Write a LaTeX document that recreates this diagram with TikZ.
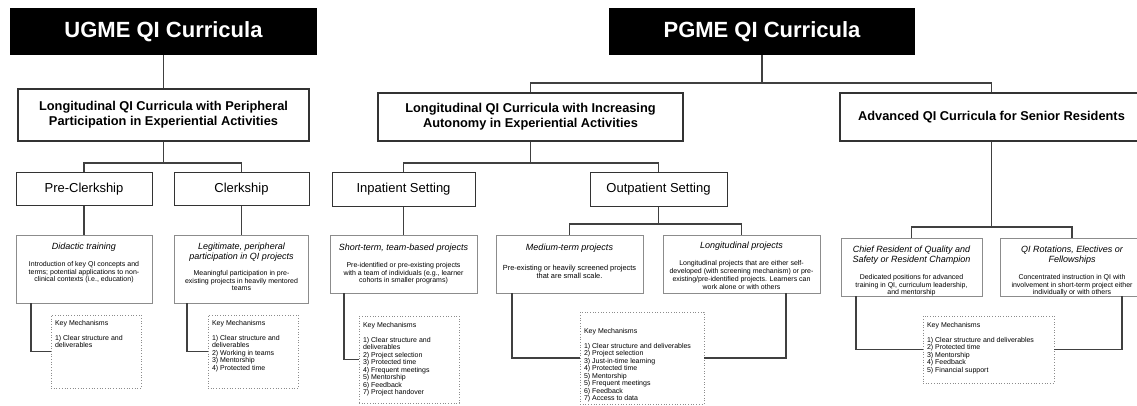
\documentclass[tikz,border=0pt]{standalone}
\usepackage{fontspec}
\setmainfont{Liberation Sans}
\newcommand\cardhead{\itshape\fontsize{9}{10}\selectfont}
\newcommand\cardbody{\fontsize{7}{7.8}\selectfont}
\newcommand\keyfont{\fontsize{7}{7.5}\selectfont}
\begin{document}
\begin{tikzpicture}[x=1pt,y=-1pt,
  headbox/.style={fill=black,text=white,inner sep=0pt,font=\bfseries\fontsize{22}{26}\selectfont},
  lvltwo/.style={draw=black!80,line width=1.1pt,fill=white,inner sep=0pt,align=center,font=\bfseries\fontsize{12.8}{15}\selectfont},
  lvlthree/.style={draw=black!80,line width=1pt,fill=white,inner sep=0pt,font=\fontsize{13}{15}\selectfont},
  lvlfour/.style={draw=black!45,line width=0.9pt,fill=white,inner sep=0pt},
  keybox/.style={draw=black!45,dotted,line width=0.7pt,fill=white,inner xsep=4pt,inner ysep=0pt},
  link/.style={draw=black!75,line width=1.1pt}]
\useasboundingbox (0,0) rectangle (1137,406);

% ---------- top-level programmes ----------
\node[headbox,minimum width=307pt,minimum height=47pt] (ugme) at (163.5,31.5) {UGME QI Curricula};
\node[headbox,minimum width=306pt,minimum height=47pt] (pgme) at (762,31.5) {PGME QI Curricula};

% ---------- curriculum types ----------
\node[lvltwo,minimum width=291pt,minimum height=52pt] (ul) at (163.5,115)
  {Longitudinal QI Curricula with Peripheral\\Participation in Experiential Activities};
\node[lvltwo,minimum width=305pt,minimum height=48pt] (pl) at (530.5,117)
  {Longitudinal QI Curricula with Increasing\\Autonomy in Experiential Activities};
\node[lvltwo,minimum width=303pt,minimum height=48pt] (ad) at (991.5,117)
  {Advanced QI Curricula for Senior Residents};

% ---------- settings ----------
\node[lvlthree,minimum width=136pt,minimum height=32pt] (pre) at (84,189) {Pre-Clerkship};
\node[lvlthree,minimum width=135pt,minimum height=32pt] (clk) at (241.5,189) {Clerkship};
\node[lvlthree,minimum width=143pt,minimum height=33pt] (inp) at (403.5,189.5) {Inpatient Setting};
\node[lvlthree,minimum width=137pt,minimum height=33pt] (out) at (658.5,189.5) {Outpatient Setting};

% ---------- project types ----------
\node[lvlfour] (did) at (84,269) {\parbox[c][68pt][t]{136pt}{\centering\vspace*{8pt}%
  {\cardhead Didactic training\par}\vspace{9pt}%
  {\cardbody Introduction of key QI concepts and\\terms; potential applications to non-\\clinical contexts (i.e., education)\par}}};
\node[lvlfour] (leg) at (241.5,269) {\parbox[c][68pt][t]{134pt}{\centering\vspace*{8pt}%
  {\cardhead Legitimate, peripheral\\participation in QI projects\par}\vspace{8pt}%
  {\cardbody Meaningful participation in pre-\\existing projects in heavily mentored\\teams\par}}};
\node[lvlfour] (sht) at (403.5,264) {\parbox[c][58pt][t]{147pt}{\centering\vspace*{9pt}%
  {\cardhead Short-term, team-based projects\par}\vspace{9pt}%
  {\cardbody Pre-identified or pre-existing projects\\with a team of individuals (e.g., learner\\cohorts in smaller programs)\par}}};
\node[lvlfour] (med) at (569.5,264) {\parbox[c][58pt][t]{147pt}{\centering\vspace*{9pt}%
  {\cardhead Medium-term projects\par}\vspace{12pt}%
  {\fontsize{7.4}{8.2}\selectfont Pre-existing or heavily screened projects\\that are small scale.\par}}};
\node[lvlfour] (lng) at (741.5,264) {\parbox[c][58pt][t]{157pt}{\centering\vspace*{6.5pt}%
  {\cardhead Longitudinal projects\par}\vspace{10pt}%
  {\cardbody Longitudinal projects that are either self-\\developed (with screening mechanism) or pre-\\existing/pre-identified projects. Learners can\\work alone or with others\par}}};
\node[lvlfour] (chf) at (911.5,267) {\parbox[c][58pt][t]{141pt}{\centering\vspace*{8pt}%
  {\cardhead Chief Resident of Quality and\\Safety or Resident Champion\par}\vspace{9pt}%
  {\cardbody Dedicated positions for advanced\\training in QI, curriculum leadership,\\and mentorship\par}}};
\node[lvlfour] (rot) at (1072,267) {\parbox[c][58pt][t]{144pt}{\centering\vspace*{8pt}%
  {\cardhead QI Rotations, Electives or\\Fellowships\par}\vspace{9pt}%
  {\cardbody Concentrated instruction in QI with\\involvement in short-term project either\\individually or with others\par}}};

% ---------- key mechanisms ----------
\node[keybox] (ka) at (96,351.5) {\parbox[c][73pt][t]{82pt}{\raggedright\keyfont\vspace*{5pt}%
  Key Mechanisms\par\vspace{7.5pt}%
  1) Clear structure and\\deliverables\par}};
\node[keybox] (kb) at (253,351.5) {\parbox[c][73pt][t]{82pt}{\raggedright\keyfont\vspace*{5pt}%
  Key Mechanisms\par\vspace{7.5pt}%
  1) Clear structure and\\deliverables\\2) Working in teams\\3) Mentorship\\4) Protected time\par}};
\node[keybox] (kc) at (409,359.5) {\parbox[c][87pt][t]{92pt}{\raggedright\keyfont\vspace*{6pt}%
  Key Mechanisms\par\vspace{7.5pt}%
  1) Clear structure and\\deliverables\\2) Project selection\\3) Protected time\\4) Frequent meetings\\5) Mentorship\\6) Feedback\\7) Project handover\par}};
\node[keybox] (kd) at (642,358) {\parbox[c][92pt][t]{116pt}{\raggedright\keyfont\vspace*{16pt}%
  Key Mechanisms\par\vspace{7.5pt}%
  1) Clear structure and deliverables\\2) Project selection\\3) Just-in-time learning\\4) Protected time\\5) Mentorship\\5) Frequent meetings\\6) Feedback\\7) Access to data\par}};
\node[keybox] (ke) at (988.5,349.5) {\parbox[c][67pt][t]{123pt}{\raggedright\keyfont\vspace*{6pt}%
  Key Mechanisms\par\vspace{7.5pt}%
  1) Clear structure and deliverables\\2) Protected time\\3) Mentorship\\4) Feedback\\5) Financial support\par}};

% ---------- junction points ----------
\coordinate (ja) at (163.5,163);
\coordinate (jb) at (762,83);
\coordinate (jc) at (530.5,163);
\coordinate (jd) at (658.5,224);
\coordinate (je) at (991.5,227);

% ---------- connectors ----------
\draw[link] (ugme.south) -- (ul.north);
\draw[link] (ul.south) -- (ja);
\draw[link] (pre.north) |- (ja) -| (clk.north);
\draw[link] (pre.south) -- (did.north);
\draw[link] (clk.south) -- (leg.north);
\draw[link] ([xshift=-53pt]did.south) |- (ka.west);
\draw[link] ([xshift=-54.5pt]leg.south) |- (kb.west);

\draw[link] (pgme.south) -- (jb);
\draw[link] (pl.north) |- (jb) -| (ad.north);
\draw[link] (pl.south) -- (jc);
\draw[link] (inp.north) |- (jc) -| (out.north);
\draw[link] (inp.south) -- (sht.north);
\draw[link] (out.south) -- (jd);
\draw[link] (med.north) |- (jd) -| (lng.north);
\draw[link] ([xshift=-59.5pt]sht.south) |- (kc.west);
\draw[link] ([xshift=-57.5pt]med.south) |- (kd.west);
\draw[link] ([xshift=44.5pt]lng.south) |- (kd.east);

\draw[link] (ad.south) -- (je);
\draw[link] (chf.north) |- (je) -| (rot.north);
\draw[link] ([xshift=-55.5pt]chf.south) |- (ke.west);
\draw[link] ([xshift=50pt]rot.south) |- (ke.east);
\end{tikzpicture}
\end{document}
